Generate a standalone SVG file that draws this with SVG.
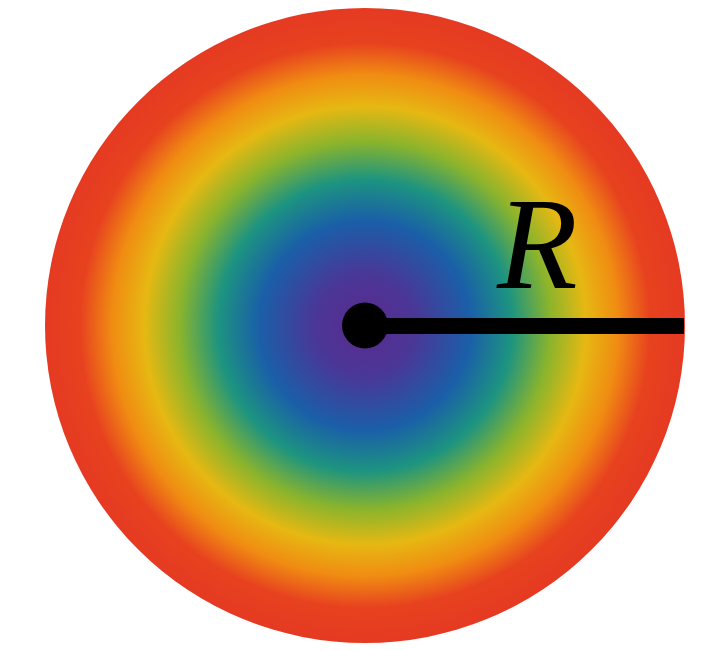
<svg xmlns="http://www.w3.org/2000/svg" width="708" height="650" viewBox="0 0 708 650">
  <defs>
    <radialGradient id="rainbow" cx="0.5" cy="0.5" r="0.5">
      <stop offset="0" stop-color="#5b2a8e"/>
      <stop offset="0.16" stop-color="#4a3797"/>
      <stop offset="0.33" stop-color="#1a5fa8"/>
      <stop offset="0.46" stop-color="#1d9480"/>
      <stop offset="0.58" stop-color="#8bb42c"/>
      <stop offset="0.69" stop-color="#e6b812"/>
      <stop offset="0.79" stop-color="#f08c12"/>
      <stop offset="0.89" stop-color="#e7421f"/>
      <stop offset="1" stop-color="#e53a22"/>
    </radialGradient>
    <style>
      .label { font-family: "Liberation Serif", "DejaVu Serif", serif; font-style: italic; fill: #000; }
    </style>
  </defs>
  <rect width="708" height="650" fill="#ffffff"/>
  <g id="disk">
    <ellipse cx="365" cy="325.5" rx="320" ry="317.5" fill="url(#rainbow)"/>
  </g>
  <g id="connectors">
    <rect x="385" y="318" width="299" height="16" fill="#000"/>
  </g>
  <g id="center">
    <circle cx="365" cy="325.5" r="23" fill="#000"/>
  </g>
  <g id="label-R">
    <text class="label" x="497" y="288" font-size="132">R</text>
  </g>
</svg>
